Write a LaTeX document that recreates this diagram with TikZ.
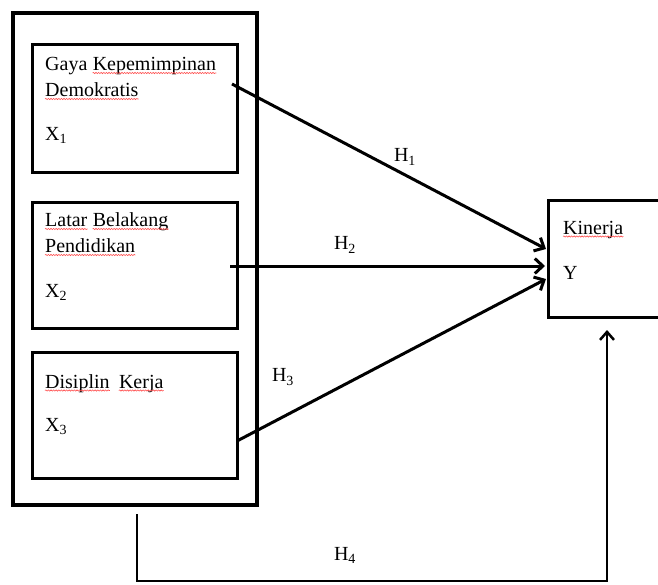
\documentclass[tikz,border=0pt]{standalone}
\usepackage{fontspec}
\setmainfont{Liberation Serif}
\usetikzlibrary{arrows.meta,decorations.pathmorphing}
\begin{document}
\begin{tikzpicture}[x=1pt,y=-1pt,
  box/.style={draw, line width=3pt, rectangle, inner sep=0pt},
  lbl/.style={font=\fontsize{20}{24}\selectfont, inner sep=0pt, anchor=base west},
  hyp/.style={font=\fontsize{20}{24}\selectfont, inner sep=0pt},
  arr/.style={line width=3pt, -{Straight Barb[length=8pt,width=15pt]}},
  arrfour/.style={line width=2.5pt, -{Straight Barb[length=8pt,width=14pt]}},
  spellline/.style={draw=red!70, line width=0.6pt, decorate,
    decoration={snake, amplitude=0.6pt, segment length=2.6pt}}]
\useasboundingbox (0,0) rectangle (658,584);
% boxes
\node[draw, line width=4.5pt, inner sep=0pt, minimum width=244pt, minimum height=492pt] (outer) at (135,259) {};
\node[box, minimum width=205pt, minimum height=128pt] (b1) at (134.5,108) {};
\node[box, minimum width=205pt, minimum height=126pt] (b2) at (134.5,265) {};
\node[box, minimum width=205pt, minimum height=126pt] (b3) at (134.5,415) {};
\node[box, minimum width=122pt, minimum height=117pt] (kin) at (609,258.5) {};
% texts
\node[lbl] (w1) at (45,70.5) {Gaya};
\node[lbl] (w2) at ([xshift=5pt]w1.base east) {Kepemimpinan};
\node[lbl] (w3) at (45,96.5) {Demokratis};
\node[lbl] (t1c) at (45,140) {X\textsubscript{1}};
\node[lbl] (w4) at (45,226.5) {Latar};
\node[lbl] (w5) at ([xshift=5pt]w4.base east) {Belakang};
\node[lbl] (w6) at (45,252.5) {Pendidikan};
\node[lbl] (t2c) at (45,297) {X\textsubscript{2}};
\node[lbl] (w7) at (45,388) {Disiplin};
\node[lbl] (w8) at ([xshift=9pt]w7.base east) {Kerja};
\node[lbl] (t3c) at (45,431.5) {X\textsubscript{3}};
\node[lbl] (w9) at (563,234) {Kinerja};
\node[lbl] (tkb) at (563,279) {Y};
\foreach \w in {w2,w3,w4,w5,w6,w7,w8,w9}
  \path[spellline] ([yshift=-2.5pt]\w.base west) -- ([yshift=-2.5pt]\w.base east);
% connectors
\coordinate (s1) at (232,84);  \coordinate (e1) at (546,249);
\coordinate (s2) at (230,266); \coordinate (e2) at (545,266);
\coordinate (s3) at (237,441); \coordinate (e3) at (546,279);
\coordinate (s4) at (137,514); \coordinate (c4a) at (137,581);
\coordinate (c4b) at (607,581); \coordinate (e4) at (607,330);
\draw[arr] (s1) -- (e1);
\draw[arr] (s2) -- (e2);
\draw[arr] (s3) -- (e3);
\draw[arrfour] (s4) -- (c4a) -- (c4b) -- (e4);
% hypothesis labels
\node[hyp] (h1) at (405,157) {H\textsubscript{1}};
\node[hyp] (h2) at (345,245) {H\textsubscript{2}};
\node[hyp] (h3) at (283,377) {H\textsubscript{3}};
\node[hyp] (h4) at (345,555) {H\textsubscript{4}};
\end{tikzpicture}
\end{document}
